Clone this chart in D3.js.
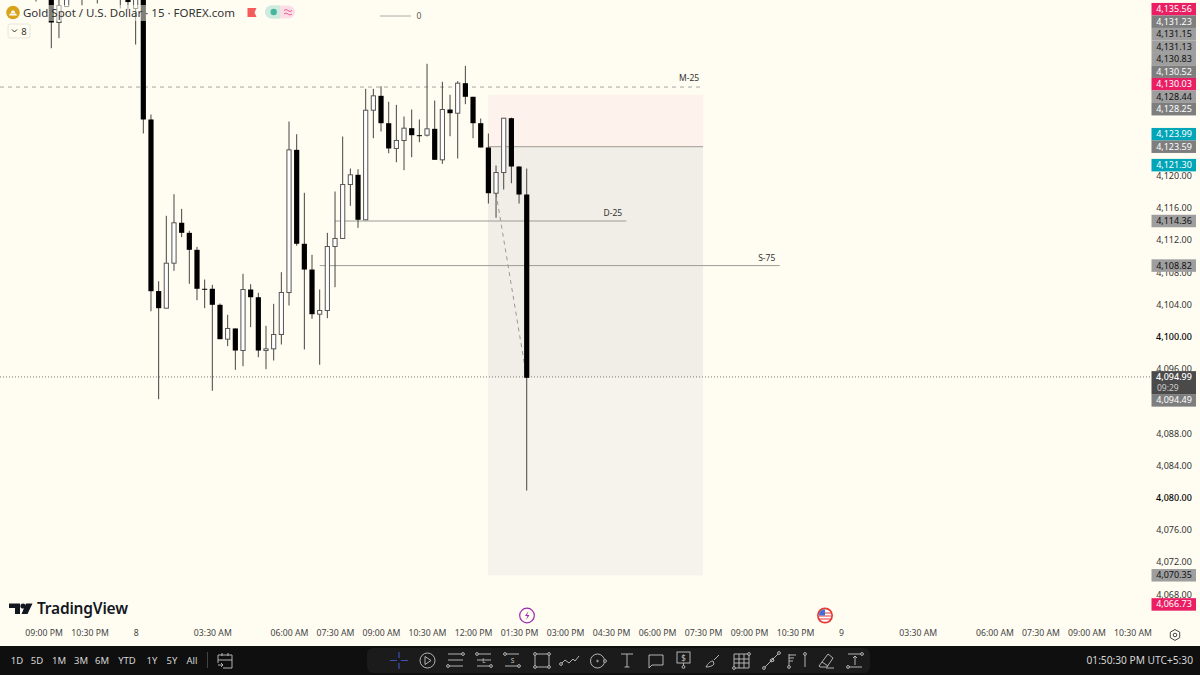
<!DOCTYPE html>
<html>
<head>
<meta charset="utf-8">
<script src="https://cdn.jsdelivr.net/npm/d3@7"></script>
<style>
html, body { margin: 0; padding: 0; background: #fffdf2; overflow: hidden; }
svg { display: block; }
text { font-family: "Noto Sans", sans-serif; }
</style>
</head>
<body>
<div id="chart"></div>
<script>
// candles, oldest first. first bars run off the top of the pane
const firstBar = -2;
const opens = [4145,4146,4147,4139.02,4141.00,4144,4145,4146,4145,4147,4148,4146,4145,4140.76,
  4145.48,4126.97,4105.66,4103.53,4109.12,4114.14,4112.89,4110.78,4105.94,4105.94,4103.95,4099.68,4101.01,4098.27,4105.85,4104.89,
  4098.27,4098.48,4100.26,4105.48,4123.20,4111.53,4108.33,4102.78,4103.24,4111.19,4112.19,4118.89,4120.10,4114.51,4128.12,4129.91,
  4126.51,4123.37,4124.36,4125.89,4125.02,4125.02,4125.81,4121.96,4128.21,4127.75,4131.48,4129.79,4126.51,4123.49,4117.81,4120.38,
  4127.13,4121.13,4117.65];
const highs = [4146,4147,4148,4143,4144,4146,4146,4147,4146,4148,4149,4147,4146,4144,
  4146.72,4127.59,4106.88,4115.01,4117.69,4115.87,4113.14,4111.15,4107.09,4106.43,4104.11,4102.71,4101.01,4107.80,4106.51,4105.44,
  4101.34,4104.07,4108.00,4126.72,4125.14,4117.86,4110.16,4105.85,4112.89,4118.02,4124.86,4120.88,4120.79,4130.78,4130.78,4131.10,
  4129.17,4128.79,4127.34,4128.21,4126.97,4133.89,4129.33,4131.65,4130.04,4131.73,4133.64,4129.79,4127.09,4125.23,4121.25,4127.13,
  4127.20,4121.13,4120.88];
const lows = [4141.63,4143,4135.82,4137.07,4141.00,4142.5,4141.13,4142.5,4141.38,4143,4144,4140.76,4140.63,4136.28,
  4125.23,4103.15,4092.22,4103.53,4108.17,4112.35,4106.56,4104.52,4103.53,4093.27,4099.68,4098.81,4095.87,4096.32,4101.17,4097.44,
  4095.95,4097.03,4099.02,4103.86,4111.28,4098.40,4102.21,4096.50,4102.29,4106.14,4112.19,4116.25,4113.51,4114.51,4124.64,4125.48,
  4122.78,4121.66,4120.67,4122.28,4124.15,4124.86,4121.96,4121.46,4124.89,4122.12,4128.87,4124.64,4123.49,4116.53,4114.76,4118.27,
  4119.05,4116.53,4080.88];
const closes = [4144,4145,4139.02,4141.13,4143,4145,4144,4145,4144,4146,4147,4145,4141.56,4143,
  4126.97,4105.64,4103.53,4109.12,4114.14,4112.89,4110.78,4105.94,4105.90,4103.95,4099.68,4101.01,4098.27,4105.85,4104.89,4098.27,
  4098.48,4100.26,4105.48,4123.20,4111.53,4108.33,4102.78,4103.24,4111.19,4112.19,4118.89,4120.10,4114.51,4128.12,4129.91,4126.51,
  4123.37,4124.36,4125.89,4125.02,4125.00,4125.81,4121.96,4128.21,4127.75,4131.48,4129.79,4126.51,4123.49,4117.81,4120.38,4127.13,
  4121.13,4117.65,4094.88];

// axis
const priceTicks = [4120,4116,4112,4108,4104,4100,4096,4092,4088,4084,4080,4076,4072,4068];
const strongTicks = [4100,4080];
const timeTickBars = [-1,5,11,21,31,37,43,49,55,61,67,73,79,85,91,97,103,113,123,129,135,141];
const timeTickLabels = ["09:00 PM","10:30 PM","8","03:30 AM","06:00 AM","07:30 AM","09:00 AM","10:30 AM","12:00 PM","01:30 PM","03:00 PM","04:30 PM","06:00 PM","07:30 PM","09:00 PM","10:30 PM","9","03:30 AM","06:00 AM","07:30 AM","09:00 AM","10:30 AM"];

// price scale tags
const tagPrices = [4135.56,4131.23,4131.15,4131.13,4130.83,4130.52,4130.03,4128.44,4128.25,4123.99,4123.59,4121.30,4114.36,4108.82,4094.49,4070.35,4066.73];
const tagKinds = ["pink","dark","light","light","light","dark","pink","light","dark","teal","dark","teal","light","light","dark","light","pink"];
const lastPrice = 4094.99;
const countdown = "09:29";

// drawings
const dashedLevel = 4131.0, dashedLabel = "M-25", dashedEndBar = 85;
const dayLevel = 4114.36, dayLabel = "D-25", dayBars = [37,75];
const sessionLevel = 4108.82, sessionLabel = "S-75", sessionBars = [35,95];
const stopPrice = 4130.03, entryPrice = 4123.59, targetPrice = 4070.35;
const positionBars = [57,85];
const pathBars = [58,62], pathPrices = [4117.81,4094.88];

const rangeButtons = ["1D","5D","1M","3M","6M","YTD","1Y","5Y","All"];
const rangeCentres = [17,37,59,81,102,127,152,172,192];

const W = 1200, H = 675;
const paneRight = 1150, barTop = 646;
const bg = "#fffdf2";

const x = d3.scaleLinear().domain([0,100]).range([51.3,818.1]);
const y = d3.scaleLinear().domain([4116,4068]).range([207.8,594.2]);

const svg = d3.select("#chart").append("svg").attr("width",W).attr("height",H);
svg.append("rect").attr("width",W).attr("height",H).attr("fill",bg);

const pane = svg.append("g");

// long/short position box
const boxX = Math.floor(x(positionBars[0])), boxW = x(positionBars[1]) - boxX;
function box(top,bottom,fill){
  pane.append("rect").attr("x",boxX).attr("width",boxW)
    .attr("y",y(top)).attr("height",y(bottom)-y(top)).attr("fill",fill);
}
box(stopPrice,entryPrice,"#fdf2ec");
box(entryPrice,lastPrice,"#f0eee6");
box(lastPrice,targetPrice,"#f5f3eb");
pane.append("line").attr("x1",boxX).attr("x2",boxX+boxW)
  .attr("y1",y(entryPrice)).attr("y2",y(entryPrice))
  .attr("stroke","#a09a94").attr("stroke-width",1);

// levels
pane.append("line").attr("x1",0).attr("x2",x(dashedEndBar))
  .attr("y1",y(dashedLevel)).attr("y2",y(dashedLevel))
  .attr("stroke","#a5a5a0").attr("stroke-dasharray","4 4");
[[dayLevel,dayBars,dayLabel,-13.5],[sessionLevel,sessionBars,sessionLabel,-13]].forEach(function(d){
  pane.append("line").attr("x1",x(d[1][0])).attr("x2",x(d[1][1]))
    .attr("y1",y(d[0])).attr("y2",y(d[0]))
    .attr("stroke","#9c9c98").attr("stroke-width",1);
  pane.append("text").attr("x",x(d[1][1])+d[3]).attr("y",y(d[0])-5)
    .attr("text-anchor","middle").attr("font-size",8.5).attr("fill","#333").text(d[2]);
});
pane.append("text").attr("x",x(dashedEndBar)-14).attr("y",y(dashedLevel)-6)
  .attr("text-anchor","middle").attr("font-size",8.5).attr("fill","#333").text(dashedLabel);

// dashed path to the last close
pane.append("line").attr("x1",x(pathBars[0])).attr("x2",x(pathBars[1]))
  .attr("y1",y(pathPrices[0])).attr("y2",y(pathPrices[1]))
  .attr("stroke","#999").attr("stroke-dasharray","4 4");

// last price line
pane.append("line").attr("x1",0).attr("x2",paneRight)
  .attr("y1",y(lastPrice)).attr("y2",y(lastPrice))
  .attr("stroke","#777").attr("stroke-dasharray","1 2");

// candles
const candles = d3.range(opens.length).map(function(i){
  return {bar:firstBar+i, o:opens[i], h:highs[i], l:lows[i], c:closes[i]};
});
const bodyW = 5.2;
const g = pane.selectAll("g.candle").data(candles).enter().append("g").attr("class","candle");
g.append("line")
  .attr("x1",d=>x(d.bar)).attr("x2",d=>x(d.bar))
  .attr("y1",d=>y(d.h)).attr("y2",d=>y(d.l))
  .attr("stroke","#444").attr("stroke-width",1);
g.append("rect")
  .attr("x",d=>x(d.bar)-bodyW/2+(d.c>=d.o?0.5:0))
  .attr("width",d=>d.c>=d.o?bodyW-1:bodyW)
  .attr("y",d=>y(Math.max(d.o,d.c)))
  .attr("height",d=>Math.max(y(Math.min(d.o,d.c))-y(Math.max(d.o,d.c)),1))
  .attr("fill",d=>d.c>=d.o?"#fff":"#000")
  .attr("stroke",d=>d.c>=d.o?"#555":"none");

// legend, sits over the candles with a see-through backing
svg.append("rect").attr("x",21).attr("y",5).attr("width",222).attr("height",16).attr("rx",2)
  .attr("fill",bg).attr("opacity",0.5);
svg.append("text").attr("x",23).attr("y",16.5).attr("font-size",11.5).attr("fill","#333")
  .text("Gold Spot / U.S. Dollar · 15 · FOREX.com");
svg.append("circle").attr("cx",13).attr("cy",12.5).attr("r",6.8).attr("fill","#d9a21b");
svg.append("path").attr("d","M9 15.5h8l-1-2h-6zM10.8 13h4.4l-1-2.5h-2.4z").attr("fill","#fff");
svg.append("path").attr("d","M247.5 8h9l-2 4.5 2 4.5h-9z").attr("fill","#f45b5b");
svg.append("rect").attr("x",265).attr("y",5.5).attr("width",30).attr("height",13).attr("rx",6.5).attr("fill","#fbdde6");
svg.append("path").attr("d","M265 12a6.5 6.5 0 0 1 6.5-6.5H280V18.5h-8.5A6.5 6.5 0 0 1 265 12z").attr("fill","#cdebdf");
svg.append("circle").attr("cx",273.7).attr("cy",12).attr("r",3.2).attr("fill","#45b69c");
svg.append("path").attr("d","M284 10.5q2-2 4 0t4 0M284 14q2-2 4 0t4 0").attr("fill","none").attr("stroke","#ec5d94").attr("stroke-width",1);
svg.append("rect").attr("x",8).attr("y",24).attr("width",22).attr("height",14).attr("rx",2).attr("fill",bg).attr("stroke","#e8e6da");
svg.append("path").attr("d","M12 29.5l2.5 2.5 2.5-2.5").attr("fill","none").attr("stroke","#333");
svg.append("text").attr("x",24).attr("y",35).attr("text-anchor","middle").attr("font-size",9.5).attr("fill","#333").text("8");
svg.append("line").attr("x1",380).attr("x2",411).attr("y1",16).attr("y2",16).attr("stroke","#aaa");
svg.append("text").attr("x",419).attr("y",19).attr("text-anchor","middle").attr("font-size",8.5).attr("fill","#555").text("0");

// price axis
const yAxis = d3.axisRight(y).tickValues(priceTicks).tickSize(0).tickPadding(0).tickFormat(d3.format(",.2f"));
const yG = svg.append("g").attr("transform","translate(1174,0)").call(yAxis);
yG.select(".domain").remove();
yG.selectAll("text").attr("x",0).attr("text-anchor","middle").attr("dy","0.32em")
  .attr("font-size",9).attr("font-family","'Noto Sans', sans-serif")
  .attr("fill",d=>strongTicks.includes(d)?"#000":"#333")
  .attr("font-weight",d=>strongTicks.includes(d)?500:400);

// time axis
const xAxis = d3.axisBottom(x).tickValues(timeTickBars).tickSize(0).tickPadding(0)
  .tickFormat((d,i)=>timeTickLabels[i]);
const xG = svg.append("g").attr("transform","translate(0,630)").call(xAxis);
xG.select(".domain").remove();
xG.selectAll("text").attr("font-size",8.7).attr("font-family","'Noto Sans', sans-serif").attr("fill","#444");

// price tags: the ones that collide stack upward, the one under the last price drops below it
const tagH = 12.5, lastBoxTop = y(lastPrice)-5.8, lastBoxH = 23;
const tagColors = {pink:["#e91e63","#fff"], dark:["#7e7e7e","#fff"], light:["#9e9e9e","#111"], teal:["#00a5b8","#fff"]};
const tagY = tagPrices.map(p=>y(p));
for (let i=tagY.length-2;i>=0;i--){
  if (tagY[i] > tagY[i+1]-tagH && tagPrices[i+1] > lastPrice) tagY[i] = tagY[i+1]-tagH;
}
tagPrices.forEach(function(p,i){
  let cy = tagY[i];
  if (Math.abs(p-lastPrice)<1) cy = lastBoxTop+lastBoxH+tagH/2;
  const c = tagColors[tagKinds[i]];
  svg.append("rect").attr("x",1151.5).attr("y",cy-tagH/2).attr("width",44.5).attr("height",tagH).attr("fill",c[0]);
  svg.append("text").attr("x",1174).attr("y",cy).attr("dy","0.34em").attr("text-anchor","middle")
    .attr("font-size",9).attr("fill",c[1]).text(d3.format(",.2f")(p));
});
svg.append("rect").attr("x",1151.5).attr("y",lastBoxTop).attr("width",44.5).attr("height",lastBoxH).attr("fill","#4a4a4a");
svg.append("text").attr("x",1174).attr("y",lastBoxTop+6).attr("dy","0.34em").attr("text-anchor","middle")
  .attr("font-size",9).attr("font-weight",500).attr("fill","#fff").text(d3.format(",.2f")(lastPrice));
svg.append("text").attr("x",1157).attr("y",lastBoxTop+17).attr("dy","0.34em")
  .attr("font-size",8.5).attr("fill","#ccc").text(countdown);

// logo
const logo = svg.append("g").attr("fill","#131722");
logo.append("path").attr("d","M9 603.5h11v10.5h-5v-6h-6z");
logo.append("circle").attr("cx",23).attr("cy",606).attr("r",2.6);
logo.append("path").attr("d","M26 603.5h6.5l-5 10.5h-6z");
logo.append("text").attr("x",37).attr("y",614).attr("font-size",15.5).attr("font-family","Inter, sans-serif")
  .attr("font-weight",600).attr("letter-spacing",-0.2).text("TradingView");

// event markers
svg.append("circle").attr("cx",527).attr("cy",615.5).attr("r",7.3).attr("fill",bg).attr("stroke","#9c27b0").attr("stroke-width",1.2);
svg.append("path").attr("d","M528.5 611l-3.5 5h2.5l-1.5 4 3.5-5H527z").attr("fill","#9c27b0");
svg.append("circle").attr("cx",825).attr("cy",615.5).attr("r",8).attr("fill","#e53935");
svg.append("circle").attr("cx",825).attr("cy",615.5).attr("r",6.3).attr("fill","#fff");
svg.append("path").attr("d","M819 613h12M819 616h12M819 619h12").attr("stroke","#e53935").attr("stroke-width",1.2);
svg.append("path").attr("d","M819.5 612.5a6 6 0 0 1 5.5-3v6h-6z").attr("fill","#3f6fd8");
svg.append("path").attr("d","M1175 629.5l4.7 2.7v5.5l-4.7 2.7-4.7-2.7v-5.5z").attr("fill","none").attr("stroke","#444");
svg.append("circle").attr("cx",1175).attr("cy",635).attr("r",1.8).attr("fill","none").attr("stroke","#444");

// bottom bar
svg.append("rect").attr("y",barTop).attr("width",W).attr("height",H-barTop).attr("fill","#0f0f0f");
svg.append("rect").attr("x",367).attr("y",648).attr("width",503).attr("height",25).attr("rx",6).attr("fill","#1b1b1b");
rangeButtons.forEach(function(t,i){
  svg.append("text").attr("x",rangeCentres[i]).attr("y",664).attr("text-anchor","middle")
    .attr("font-size",9.5).attr("fill","#d6d6d6").text(t);
});
svg.append("line").attr("x1",207.5).attr("x2",207.5).attr("y1",652).attr("y2",668).attr("stroke","#444");
svg.append("text").attr("x",1193).attr("y",664).attr("text-anchor","end")
  .attr("font-size",10.2).attr("fill","#d6d6d6").text("01:50:30 PM UTC+5:30");

// toolbar glyphs
const icons = svg.append("g").attr("fill","none").attr("stroke","#c4c4c4").attr("stroke-width",0.9);
icons.append("path").attr("d","M218 655h14v13h-9M218 660h14M218 655v8M222 653v3M228 653v3M218 665h5m-2-2l2 2-2 2");
icons.append("path").attr("d","M373 654.5h.1M378 654.5h.1M373 660h.1M378 660h.1M373 665.5h.1M378 665.5h.1").attr("stroke","#666").attr("stroke-width",1.4);
icons.append("path").attr("d","M390 660.5h7M401 660.5h7M399 652v6M399 663v6").attr("stroke","#3f51b5").attr("stroke-width",1.2);
icons.append("circle").attr("cx",427.5).attr("cy",660.5).attr("r",7.5);
icons.append("path").attr("d","M425 656.5l6 4-6 4z");
icons.append("path").attr("d","M448 654h15M448 660h15M448 666h15");
icons.append("path").attr("d","M477 654h14M477 660h14M477 666h14");
icons.append("text").attr("x",484).attr("y",663).attr("text-anchor","middle").attr("font-size",6.5).attr("stroke","none").attr("fill","#c4c4c4").text("L");
icons.append("path").attr("d","M505 654h14M505 666h14");
icons.append("text").attr("x",512.5).attr("y",663).attr("text-anchor","middle").attr("font-size",6.5).attr("stroke","none").attr("fill","#c4c4c4").text("S");
icons.append("rect").attr("x",535).attr("y",654).attr("width",14).attr("height",13);
icons.append("path").attr("d","M561 664l4-4 4 3 4-4 2 2 4-5");
icons.append("circle").attr("cx",597.5).attr("cy",661).attr("r",7);
icons.append("circle").attr("cx",597.5).attr("cy",661).attr("r",0.8);
icons.append("path").attr("d","M621 654h12M627 654v13M624.5 667h5");
icons.append("path").attr("d","M649 655h14v10h-11l-3 3z");
icons.append("rect").attr("x",677).attr("y",652).attr("width",13).attr("height",11);
icons.append("text").attr("x",683.5).attr("y",661).attr("text-anchor","middle").attr("font-size",8).attr("stroke","none").attr("fill","#c4c4c4").text("$");
icons.append("path").attr("d","M683.5 663v4M706 667c2-4 5-6 7-6l1 3c-1 2-5 3-8 3zM714 660l5-5");
icons.append("path").attr("d","M734 654h15v14h-15zM734 659h15M734 663h15M739 654v14M744 654v14");
icons.append("path").attr("d","M764 668l15-15M770 660l3-2 1 3-3 1z");
icons.append("path").attr("d","M789 654v13M789 655h7M789 658h5M789 661h4M805 655v12");
icons.append("path").attr("d","M819 666l9-12 5 4-6 9h-7zM822 662l6 4M826 668h8");
icons.append("path").attr("d","M848 654h14M848 667h14M855 656v9M853 658l2-2 2 2");

// little handles on the toolbar glyphs
const handles = [[463,654],[448,666],[477,654],[491,666],[505,654],[519,666],[535,654],[549,654],[535,667],[549,667],[561,664],[605,661],[683.5,667],[749,654],[734,668],[764,668],[779,653],[789,667],[805,654],[848,667],[862,654]];
icons.selectAll("circle.handle").data(handles).enter().append("circle").attr("class","handle")
  .attr("cx",d=>d[0]).attr("cy",d=>d[1]).attr("r",1.4).attr("fill","#1b1b1b");
</script>
</body>
</html>
